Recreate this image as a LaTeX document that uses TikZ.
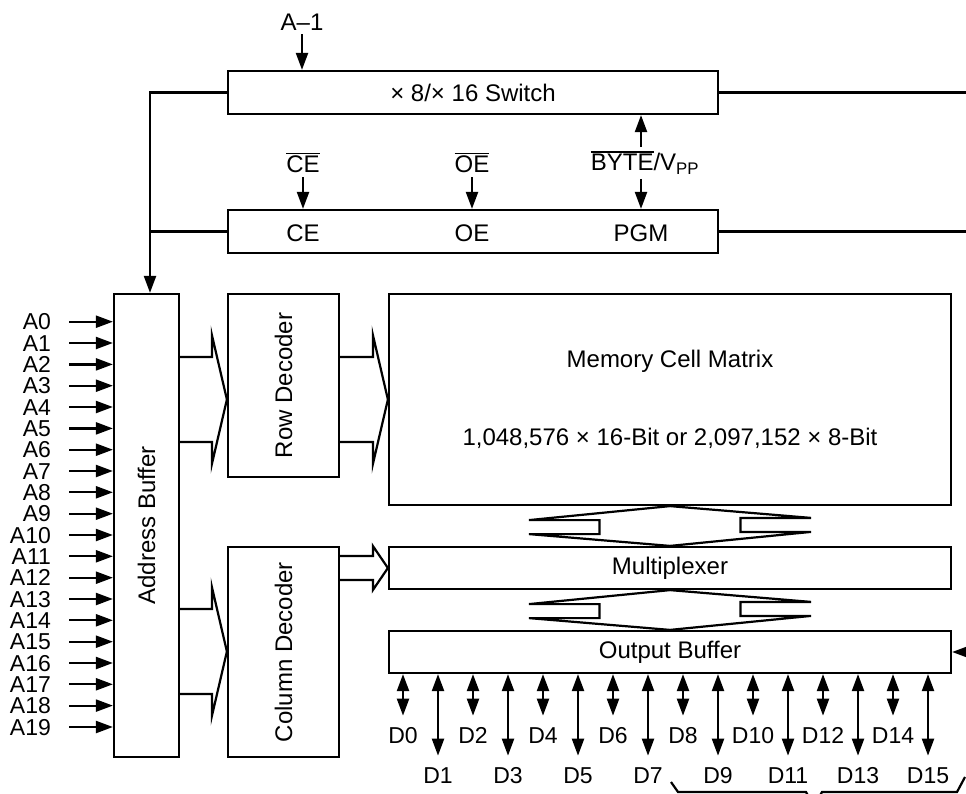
\documentclass[tikz,border=0pt]{standalone}
\usepackage{fontspec}
\setmainfont{Liberation Sans}
\usetikzlibrary{arrows.meta,positioning,calc}
\newcommand{\ovl}[1]{\leavevmode\vbox{\hrule height 1.3pt\kern1.8pt\hbox{#1}}}
%% fat horizontal bus: from, to, upper y, lower y, head overhang
\newcommand{\hbus}[5]{%
\draw (#1.east|-0,#3) -- ($(#2.west|-0,#3)+(-15,0)$) -- ++(0,-#5)
  -- ($(#2.west|-0,#3)!.5!(#2.west|-0,#4)$)
  -- ($(#2.west|-0,#4)+(-15,#5)$) -- ++(0,-#5) -- (#1.east|-0,#4);}
%% fat vertical double bus: upper, lower, head half width, shaft half width
\newcommand{\vbus}[4]{%
\draw (#1.south) -- ++(-#3,14) -- ++(#3-#4,0) -- ++(0,14) -- ++(#4-#3,0)
  -- (#2.north) -- ++(#3,-14) -- ++(#4-#3,0) -- ++(0,-14) -- ++(#3-#4,0) -- cycle;}

\begin{document}
\begin{tikzpicture}
[x=1pt,y=-1pt,line width=2.2pt,
    font=\fontsize{24}{28.8}\selectfont,
    blk/.style={draw,shape=rectangle,inner sep=0pt},
    lab/.style={inner sep=0pt},
    plab/.style={inner sep=0pt,text height=16.5pt,text depth=0pt,font=\fontsize{23}{24}\selectfont},
    alab/.style={plab,anchor=east},
    apin/.style={->,shorten <=17pt},
    dpin/.style={<->,shorten >=10pt},
    >={Triangle[length=17pt,width=12pt]}]
\useasboundingbox (0,0) rectangle (966,794);
\clip (0,0) rectangle (966,794);
\coordinate (edge) at (966,0);
%%%%%%%%%%
%%%%% Control blocks
\node (sw) [blk,minimum width=490,minimum height=43] at (473,92.5) {× 8/× 16 Switch};
\node (ctl) [blk,minimum width=490,minimum height=43] at (473,231.5) {};
\node (ce) [lab] at (303,233) {CE};
\node (oe) [lab] at (472,233) {OE};
\node (pgm) [lab] at (641,233) {PGM};
\node (nce) [lab] at (303,163) {\ovl{CE}};
\node (noe) [lab] at (472,163) {\ovl{OE}};
\node (byte) [lab] at (645,163) {\ovl{BYTE}/V\textsubscript{PP}};
\node (am1) [lab] at (302,22) {A–1};
%% control arrows
\draw[->,shorten <=3pt] (am1.south) -- (am1.south |- sw.north);
\draw[->,shorten <=3pt] (nce.south) -- (nce.south |- ctl.north);
\draw[->,shorten <=3pt] (noe.south) -- (noe.south |- ctl.north);
\draw[->,shorten <=3pt] (byte.south -| pgm) -- (pgm |- ctl.north);
\draw[->,shorten <=3pt] (byte.north -| pgm) -- (pgm |- sw.south);
\draw (sw.east) -- (sw.east -| edge);
\draw (ctl.east) -- (ctl.east -| edge);
%%%%%%%%%%
%%%%% Address path
\node (abuf) [blk,minimum width=65,minimum height=463] at (146.5,525.5) {\rotatebox{90}{Address Buffer}};
\node (rdec) [blk,minimum width=111,minimum height=183] at (283.5,385.5) {\rotatebox{90}{Row Decoder}};
\node (cdec) [blk,minimum width=111,minimum height=210] at (283.5,652) {\rotatebox{90}{Column Decoder}};
\draw[->] (sw.west) -| ($(abuf.north)+(3.5,0)$);
\draw (ctl.west) -- ($(ctl.west -| abuf.north)+(3.5,0)$);
%% address inputs
\node (a0) [alab] at (52,321.7) {A0};   \draw[apin] (a0.east) -- (a0.east -| abuf.west);
\node (a1) [alab] at (52,343.0) {A1};   \draw[apin] (a1.east) -- (a1.east -| abuf.west);
\node (a2) [alab] at (52,364.4) {A2};   \draw[apin] (a2.east) -- (a2.east -| abuf.west);
\node (a3) [alab] at (52,385.7) {A3};   \draw[apin] (a3.east) -- (a3.east -| abuf.west);
\node (a4) [alab] at (52,407.0) {A4};   \draw[apin] (a4.east) -- (a4.east -| abuf.west);
\node (a5) [alab] at (52,428.4) {A5};   \draw[apin] (a5.east) -- (a5.east -| abuf.west);
\node (a6) [alab] at (52,449.7) {A6};   \draw[apin] (a6.east) -- (a6.east -| abuf.west);
\node (a7) [alab] at (52,471.0) {A7};   \draw[apin] (a7.east) -- (a7.east -| abuf.west);
\node (a8) [alab] at (52,492.3) {A8};   \draw[apin] (a8.east) -- (a8.east -| abuf.west);
\node (a9) [alab] at (52,513.7) {A9};   \draw[apin] (a9.east) -- (a9.east -| abuf.west);
\node (a10) [alab] at (52,535.0) {A10}; \draw[apin] (a10.east) -- (a10.east -| abuf.west);
\node (a11) [alab] at (52,556.3) {A11}; \draw[apin] (a11.east) -- (a11.east -| abuf.west);
\node (a12) [alab] at (52,577.7) {A12}; \draw[apin] (a12.east) -- (a12.east -| abuf.west);
\node (a13) [alab] at (52,599.0) {A13}; \draw[apin] (a13.east) -- (a13.east -| abuf.west);
\node (a14) [alab] at (52,620.3) {A14}; \draw[apin] (a14.east) -- (a14.east -| abuf.west);
\node (a15) [alab] at (52,641.7) {A15}; \draw[apin] (a15.east) -- (a15.east -| abuf.west);
\node (a16) [alab] at (52,663.0) {A16}; \draw[apin] (a16.east) -- (a16.east -| abuf.west);
\node (a17) [alab] at (52,684.3) {A17}; \draw[apin] (a17.east) -- (a17.east -| abuf.west);
\node (a18) [alab] at (52,705.6) {A18}; \draw[apin] (a18.east) -- (a18.east -| abuf.west);
\node (a19) [alab] at (52,727.0) {A19}; \draw[apin] (a19.east) -- (a19.east -| abuf.west);
%%%%%%%%%%
%%%%% Memory array and data path
\node (mcm) [blk,minimum width=562,minimum height=211,align=center] at (670,399.5) {Memory Cell Matrix\\[49pt]1,048,576 × 16-Bit or 2,097,152 × 8-Bit};
\node (mux) [blk,minimum width=562,minimum height=42] at (670,568) {Multiplexer};
\node (obuf) [blk,minimum width=562,minimum height=42] at (670,652) {Output Buffer};
\draw[<-] (obuf.east) -- (obuf.east -| edge);
%% buses
\hbus{abuf}{rdec}{357}{442}{22}
\hbus{rdec}{mcm}{357}{442}{22}
\hbus{abuf}{cdec}{609}{694}{22}
\hbus{cdec}{mux}{556}{580}{10}
\vbus{mcm}{mux}{141}{70.5}
\vbus{mux}{obuf}{141}{70.5}
%% data pins
\node (d0) [plab] at (403,735) {D0};   \draw[dpin] (d0 |- obuf.south) -- (d0.north);
\node (d1) [plab] at (438,775) {D1};   \draw[dpin] (d1 |- obuf.south) -- (d1.north);
\node (d2) [plab] at (473,735) {D2};   \draw[dpin] (d2 |- obuf.south) -- (d2.north);
\node (d3) [plab] at (508,775) {D3};   \draw[dpin] (d3 |- obuf.south) -- (d3.north);
\node (d4) [plab] at (543,735) {D4};   \draw[dpin] (d4 |- obuf.south) -- (d4.north);
\node (d5) [plab] at (578,775) {D5};   \draw[dpin] (d5 |- obuf.south) -- (d5.north);
\node (d6) [plab] at (613,735) {D6};   \draw[dpin] (d6 |- obuf.south) -- (d6.north);
\node (d7) [plab] at (648,775) {D7};   \draw[dpin] (d7 |- obuf.south) -- (d7.north);
\node (d8) [plab] at (683,735) {D8};   \draw[dpin] (d8 |- obuf.south) -- (d8.north);
\node (d9) [plab] at (718,775) {D9};   \draw[dpin] (d9 |- obuf.south) -- (d9.north);
\node (d10) [plab] at (753,735) {D10}; \draw[dpin] (d10 |- obuf.south) -- (d10.north);
\node (d11) [plab] at (788,775) {D11}; \draw[dpin] (d11 |- obuf.south) -- (d11.north);
\node (d12) [plab] at (823,735) {D12}; \draw[dpin] (d12 |- obuf.south) -- (d12.north);
\node (d13) [plab] at (858,775) {D13}; \draw[dpin] (d13 |- obuf.south) -- (d13.north);
\node (d14) [plab] at (893,735) {D14}; \draw[dpin] (d14 |- obuf.south) -- (d14.north);
\node (d15) [plab] at (928,775) {D15}; \draw[dpin] (d15 |- obuf.south) -- (d15.north);
%% brace under D8--D15
\draw (671,782) -- (678,792) -- (806,792) -- (814,806) -- (822,792) -- (957,792) -- (965,777);
\end{tikzpicture}
\end{document}
